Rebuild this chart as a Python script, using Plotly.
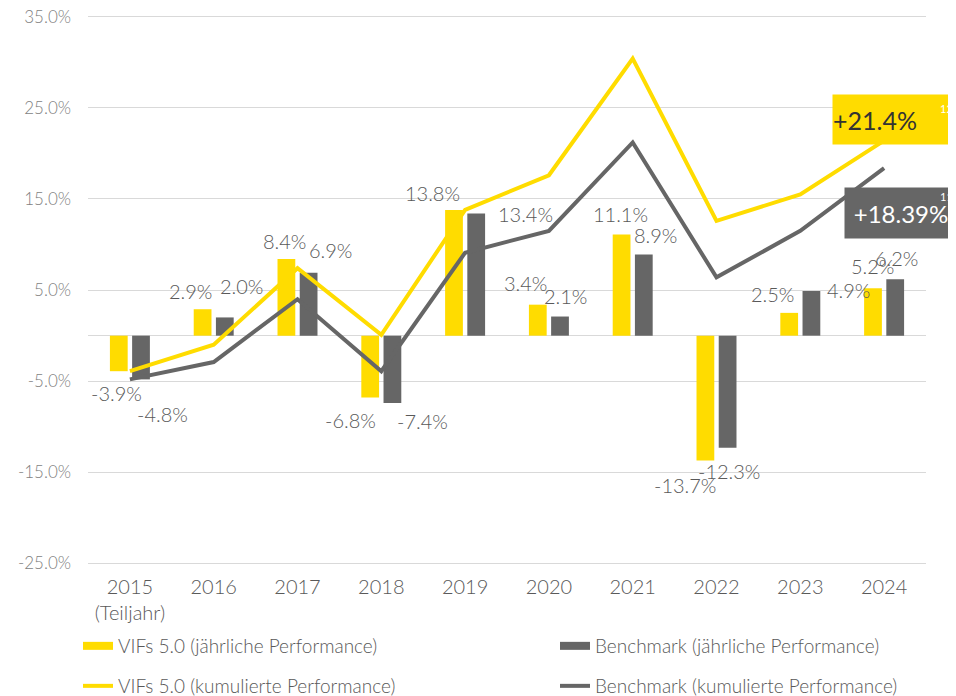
import plotly.graph_objects as go

# ---------------- data ----------------
years = ["2015", "2016", "2017", "2018", "2019", "2020", "2021", "2022", "2023", "2024"]
x_ticktext = ["2015<br>(Teiljahr)", "2016", "2017", "2018", "2019", "2020", "2021", "2022", "2023", "2024"]

vifs_annual = [-3.9, 2.9, 8.4, -6.8, 13.8, 3.4, 11.1, -13.7, 2.5, 5.2]
bm_annual = [-4.8, 2.0, 6.9, -7.4, 13.4, 2.1, 8.9, -12.3, 4.9, 6.2]

vifs_cum = [-3.9, -1.0, 7.4, 0.1, 13.8, 17.6, 30.4, 12.6, 15.5, 21.4]
bm_cum = [-4.8, -2.9, 4.0, -3.9, 9.1, 11.5, 21.2, 6.4, 11.5, 18.39]

y_tickvals = [35, 25, 15, 5, -5, -15, -25]
y_ticktext = ["35.0%", "25.0%", "15.0%", "5.0%", "-5.0%", "-15.0%", "-25.0%"]

names = [
    "VIFs 5.0 (jährliche Performance)",
    "Benchmark (jährliche Performance)",
    "VIFs 5.0 (kumulierte Performance)",
    "Benchmark (kumulierte Performance)",
]
end_marks = ["125", "115"]

# ---------------- style ----------------
YELLOW = "#FFDC00"
GREY = "#666666"
TXT = "#595959"
FONT = "Lato"

# label pixel offsets (dx right, dy down) relative to category centre / value
vifs_lbl_off = [(-13, 22), (-23, -18), (-13, -18), (-31, 22), (-33, -17),
                (-23, -22), (-12, -21), (-32, 24), (-28, -19), (-12, -22)]
bm_lbl_off = [(33, 35), (28, -31), (33, -23), (41, 18), (60, 0),
              (17, -21), (23, -20), (12, 23), (48, -1), (12, -21)]

# page has an 8px body margin: figure is sized to fit the window
OFF = 8
W, H = 956 - OFF, 696 - OFF
ML, MR, MT, MB = 80, 30, 0, 123
PW, PH = W - ML - MR, H - MT - MB


def px(sx):
    return (sx - OFF - ML) / PW


def py(sy):
    return (H - MB - (sy - OFF)) / PH


fig = go.Figure()
fig.add_trace(go.Bar(x=years, y=vifs_annual, name=names[0], marker_color=YELLOW,
                     marker_line_width=0, showlegend=False))
fig.add_trace(go.Bar(x=years, y=bm_annual, name=names[1], marker_color=GREY,
                     marker_line_width=0, showlegend=False))
fig.add_trace(go.Scatter(x=years, y=vifs_cum, name=names[2], mode="lines",
                         line=dict(color=YELLOW, width=4), legend="legend3"))
fig.add_trace(go.Scatter(x=years, y=bm_cum, name=names[3], mode="lines",
                         line=dict(color=GREY, width=4), legend="legend4"))
# legend glyphs for the bar series (flat wide bars as in the original legend)
fig.add_trace(go.Scatter(x=[None], y=[None], name=names[0], mode="lines",
                         line=dict(color=YELLOW, width=8), legend="legend", hoverinfo="skip"))
fig.add_trace(go.Scatter(x=[None], y=[None], name=names[1], mode="lines",
                         line=dict(color=GREY, width=8), legend="legend2", hoverinfo="skip"))

ann = []
for i, (v, (dx, dy)) in enumerate(zip(vifs_annual, vifs_lbl_off)):
    ann.append(dict(x=i, y=v, xref="x", yref="y", text=f"{v:.1f}%", showarrow=False,
                    xshift=dx, yshift=-dy, font=dict(family=FONT, size=20, color=TXT, weight=300)))
for i, (v, (dx, dy)) in enumerate(zip(bm_annual, bm_lbl_off)):
    ann.append(dict(x=i, y=v, xref="x", yref="y", text=f"{v:.1f}%", showarrow=False,
                    xshift=dx, yshift=-dy, font=dict(family=FONT, size=20, color=TXT, weight=300)))

# end-value boxes
ann.append(dict(x=px(832), y=py(94), xref="paper", yref="paper", xanchor="left", yanchor="top",
                text=f"+{vifs_cum[-1]:.1f}%", showarrow=False, width=124, height=49,
                align="left", valign="middle", bgcolor=YELLOW, borderpad=0,
                font=dict(family=FONT, size=25, color="#333333")))
ann.append(dict(x=px(844), y=py(187), xref="paper", yref="paper", xanchor="left", yanchor="top",
                text=f"+{bm_cum[-1]:.2f}%", showarrow=False, width=112, height=50,
                align="center", valign="middle", bgcolor=GREY, borderpad=0,
                font=dict(family=FONT, size=24, color="white")))
ann.append(dict(x=px(938), y=py(108), xref="paper", yref="paper", xanchor="left", yanchor="middle",
                text=end_marks[0], showarrow=False, font=dict(family=FONT, size=11, color="white")))
ann.append(dict(x=px(938), y=py(196), xref="paper", yref="paper", xanchor="left", yanchor="middle",
                text=end_marks[1], showarrow=False, font=dict(family=FONT, size=11, color="white")))

leg_common = dict(orientation="h", xanchor="left", yanchor="middle",
                  font=dict(family=FONT, size=19, color=TXT, weight=300), bgcolor="rgba(0,0,0,0)")

# y range so that 35% sits at screen y≈16.7 and -25% at ≈563.5 (9.113 px per %)
PXPP = 9.113
y_top = 35 + (16.7 - OFF - MT) / PXPP
y_bot = y_top - PH / PXPP

fig.update_layout(
    width=W, height=H,
    margin=dict(l=ML, r=MR, t=MT, b=MB, pad=0, autoexpand=False),
    paper_bgcolor="white", plot_bgcolor="white",
    barmode="group", bargap=0.47, bargroupgap=0.2,
    font=dict(family=FONT, color=TXT),
    annotations=ann,
    showlegend=True,
    legend=dict(x=px(78), y=py(646), **leg_common),
    legend2=dict(x=px(555), y=py(646), **leg_common),
    legend3=dict(x=px(78), y=py(686), **leg_common),
    legend4=dict(x=px(555), y=py(686), **leg_common),
)
fig.update_xaxes(type="category", tickvals=years, ticktext=x_ticktext, showgrid=False,
                 showline=False, ticks="", tickfont=dict(family=FONT, size=20, color=TXT, weight=300),
                 range=[-0.5, 9.5])
fig.update_yaxes(range=[y_bot, y_top], tickvals=y_tickvals, ticktext=y_ticktext, showgrid=True,
                 gridcolor="#D9D9D9", gridwidth=1, zeroline=True, zerolinecolor="#D9D9D9",
                 zerolinewidth=1, showline=False, ticks="", ticklabelstandoff=16,
                 ticklabeloverflow="allow",
                 tickfont=dict(family=FONT, size=17, color="#7F7F7F", weight=300))

fig.write_html("out.html")
